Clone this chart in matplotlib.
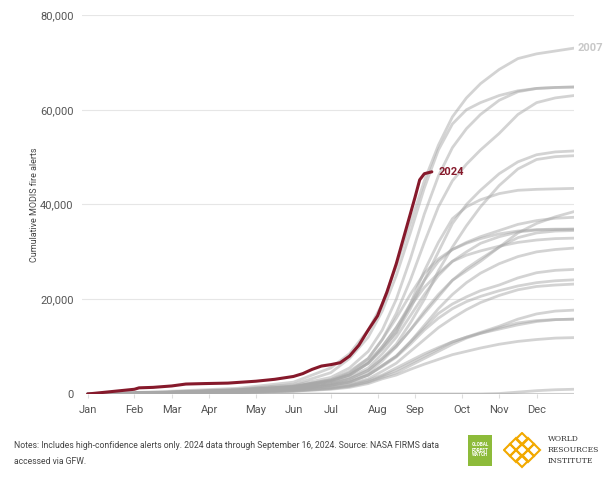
import matplotlib
matplotlib.use('Agg')
import matplotlib.pyplot as plt
from matplotlib.patches import Rectangle

plt.rcParams['font.family'] = ['Roboto', 'DejaVu Sans']

# week of year at which the grey years are sampled
weeks = [0, 8, 16, 22, 26, 28, 30, 31.5, 33, 34.5, 36, 37.5, 39, 40.5, 42, 44, 46, 48, 50, 52]

# cumulative alerts (thousands), one list per past year
y2007 = [0, .5, 1.2, 2.5, 5.5, 8.5, 13.5, 19, 27, 36, 45, 52.5, 58.5, 62.5, 65.5, 68.5, 70.8, 71.8, 72.4, 73]
yr_a = [0, .4, 1, 2, 4.5, 7.5, 12, 17.5, 25, 34, 43.5, 51.5, 57, 60, 61.5, 63, 64, 64.5, 64.7, 64.8]
yr_b = [0, .3, .9, 1.8, 3.5, 5.5, 9, 13.5, 20, 28.5, 38, 46, 52, 56, 59, 62, 63.8, 64.5, 64.7, 64.8]
yr_c = [0, .3, .8, 1.6, 3, 4.8, 7.5, 11.5, 17, 24, 32, 39.5, 45, 48.5, 51.5, 55, 59, 61.5, 62.5, 63]
yr_d = [0, .3, .8, 1.5, 2.8, 4, 6.5, 9.5, 13, 18, 24, 30, 36, 40, 43, 46.5, 49, 50.5, 51.1, 51.3]
yr_e = [0, .2, .6, 1.2, 2.2, 3.2, 5, 7.5, 10.5, 15, 20, 26, 31, 35.5, 39.5, 44, 47.5, 49.5, 50.1, 50.3]
yr_f = [0, .3, .8, 1.5, 2.8, 4, 6.5, 9.5, 13, 19, 26, 32, 37, 39.5, 41, 42.3, 43, 43.2, 43.3, 43.4]
yr_g = [0, .2, .6, 1.2, 2.2, 3.2, 5, 7.5, 10, 13.5, 17.5, 21, 24, 26, 28, 31, 34, 36, 37.4, 38.5]
yr_h = [0, .3, .7, 1.4, 2.6, 4, 6.5, 10, 14, 19, 24, 28, 30.5, 32, 33.2, 34.5, 35.8, 36.6, 37.1, 37.3]
yr_i = [0, .3, .8, 1.6, 3, 4.5, 7.5, 11.5, 16, 21, 25.5, 28.5, 30.5, 31.8, 32.8, 33.8, 34.4, 34.7, 34.8, 34.8]
yr_j = [0, .2, .6, 1.2, 2.4, 3.5, 5.5, 8.5, 12, 16.5, 21, 25, 28, 30, 31.8, 33.2, 34.2, 34.6, 34.7, 34.8]
yr_k = [0, .2, .5, 1, 2, 2.8, 4.5, 7, 10, 13.5, 17, 20.5, 24, 26.5, 28.5, 31, 33, 34, 34.4, 34.5]
yr_l = [0, .3, .8, 1.5, 2.8, 4.2, 6.8, 10, 14, 18.5, 22.5, 25.5, 28, 29.3, 30.2, 31.2, 32, 32.5, 32.8, 32.9]
yr_m = [0, .2, .5, 1, 1.8, 2.6, 4, 6, 8, 11, 14.5, 18, 21, 23.5, 25.5, 27.5, 29, 30, 30.5, 30.8]
yr_n = [0, .2, .5, 1, 1.8, 2.5, 4, 6, 8, 11, 14, 17, 19, 20.5, 21.8, 23, 24.5, 25.6, 26.1, 26.3]
yr_o = [0, .2, .5, 1, 1.8, 2.5, 4, 5.8, 7.8, 10.5, 13.5, 16, 18, 19.5, 20.6, 21.8, 22.8, 23.5, 23.9, 24.1]
yr_p = [0, .2, .4, .8, 1.5, 2.1, 3.2, 4.8, 6.5, 9, 11.5, 14, 16, 17.8, 19.3, 20.8, 22, 22.7, 23, 23.2]
yr_q = [0, .1, .3, .7, 1.2, 1.7, 2.6, 3.8, 5, 6.5, 8, 9.5, 11, 12, 13, 14.3, 15.8, 16.9, 17.5, 17.7]
yr_r = [0, .1, .3, .7, 1.3, 1.9, 2.9, 4, 5.5, 7, 8.5, 9.8, 11, 12, 12.8, 13.7, 14.6, 15.3, 15.7, 15.8]
yr_s = [0, .1, .3, .6, 1.1, 1.6, 2.5, 3.5, 4.5, 6, 7.5, 9, 10.5, 11.8, 12.8, 14, 15, 15.5, 15.7, 15.8]
yr_t = [0, .1, .3, .6, 1, 1.4, 2.2, 3.2, 4, 5.2, 6.3, 7.3, 8.3, 9, 9.7, 10.5, 11.1, 11.5, 11.8, 11.9]
yr_u = [0, 0, 0, 0, 0, 0, 0, 0, 0, 0, 0, 0, 0, 0, 0, 0.1, 0.4, 0.7, 0.9, 1.0]

past_years = [y2007, yr_a, yr_b, yr_c, yr_d, yr_e, yr_f, yr_g, yr_h, yr_i, yr_j,
              yr_k, yr_l, yr_m, yr_n, yr_o, yr_p, yr_q, yr_r, yr_s, yr_t, yr_u]

# 2024 through September 16
weeks_2024 = [0, 2, 4, 5, 5.5, 7, 9, 10.5, 12.5, 15, 18, 20, 22, 23, 24, 25, 26, 27,
              28, 29, 30, 31, 32, 33, 34, 35, 35.5, 36, 36.8]
y2024 = [0, 0.4, 0.8, 1.0, 1.3, 1.4, 1.7, 2.1, 2.2, 2.3, 2.7, 3.1, 3.7, 4.3, 5.2, 5.9,
         6.2, 6.6, 8.0, 10.3, 13.5, 16.5, 21.5, 27.5, 34.5, 41.5, 45.2, 46.5, 46.9]

month_weeks = [0, 5, 9, 13, 18, 22, 26, 31, 35, 40, 44, 48]
month_labels = ['Jan', 'Feb', 'Mar', 'Apr', 'May', 'Jun', 'Jul', 'Aug', 'Sep', 'Oct', 'Nov', 'Dec']
y_ticks = [0, 20000, 40000, 60000, 80000]

fig = plt.figure(figsize=(6.13, 4.79), dpi=100)
ax = fig.add_axes([82/613, 1-394/479, (574-82)/613, (394-15)/479])

for vals in past_years:
    ax.plot(weeks, [v*1000 for v in vals], color='#a8a8a8', alpha=0.5, linewidth=2,
            solid_capstyle='round', solid_joinstyle='round', zorder=2)

ax.plot(weeks_2024, [v*1000 for v in y2024], color='#86192b', linewidth=2.2,
        solid_capstyle='round', solid_joinstyle='round', zorder=3)

ax.text(52.4, y2007[-1]*1000, '2007', color='#c8c8c8', fontsize=8, fontweight='bold',
        va='center', ha='left')
ax.text(weeks_2024[-1] + 0.7, y2024[-1]*1000, '2024', color='#86192b', fontsize=8,
        fontweight='bold', va='center', ha='left')

ax.set_xlim(-0.6, 52)
ax.set_ylim(0, 80000)
ax.set_yticks(y_ticks)
ax.set_yticklabels(['{:,}'.format(v) for v in y_ticks])
ax.set_xticks(month_weeks)
ax.set_xticklabels(month_labels)
ax.tick_params(axis='y', length=0, pad=6, labelsize=8, labelcolor='#555555')
ax.tick_params(axis='x', length=3, color='#dddddd', pad=5, labelsize=8, labelcolor='#555555')
ax.grid(axis='y', color='#e6e6e6', linewidth=0.8, zorder=0)
ax.axhline(0, xmin=0.6/52.6, color='#cccccc', linewidth=1.5, zorder=1)
for s in ['top', 'right', 'left', 'bottom']:
    ax.spines[s].set_visible(False)
ax.set_ylabel('Cumulative MODIS fire alerts', fontsize=6.5, color='#444444')
ax.yaxis.set_label_coords(-0.087, 0.5)

# footer notes
fig.text(14/613, 1-446/479, 'Notes: Includes high-confidence alerts only. 2024 data through '
         'September 16, 2024. Source: NASA FIRMS data', fontsize=6.2, color='#444444', va='center')
fig.text(14/613, 1-461/479, 'accessed via GFW.', fontsize=6.2, color='#444444', va='center')

# logos
fig.patches.append(Rectangle((468/613, 1-466/479), 24/613, 31/479, transform=fig.transFigure,
                             facecolor='#8dbb3a', edgecolor='none'))
fig.text(480/613, 1-450/479, 'GLOBAL\nFOREST\nWATCH', fontsize=3.3, color='white', fontweight='bold',
         ha='center', va='center', linespacing=1.0)
lax = fig.add_axes([503/613, 1-468/479, 38/613, 36/479])
lax.set_xlim(-2.2, 2.2)
lax.set_ylim(-2.2, 2.2)
lax.axis('off')
for dx, dy in [(0, 1.4), (-1.4, 0), (1.4, 0), (0, -1.4), (0, 0), (-0.7, 0.7), (0.7, 0.7),
               (-0.7, -0.7), (0.7, -0.7)]:
    lax.plot(dx, dy, marker='D', markersize=6, markerfacecolor='none',
             markeredgecolor='#f2a900', markeredgewidth=1.5)
fig.text(548/613, 1-439/479, 'WORLD', fontsize=5.5, color='#333333', family='serif', va='center')
fig.text(548/613, 1-450/479, 'RESOURCES', fontsize=5.5, color='#333333', family='serif', va='center')
fig.text(548/613, 1-461/479, 'INSTITUTE', fontsize=5.5, color='#333333', family='serif', va='center')

fig.savefig('out.png', dpi=100, facecolor='white')
